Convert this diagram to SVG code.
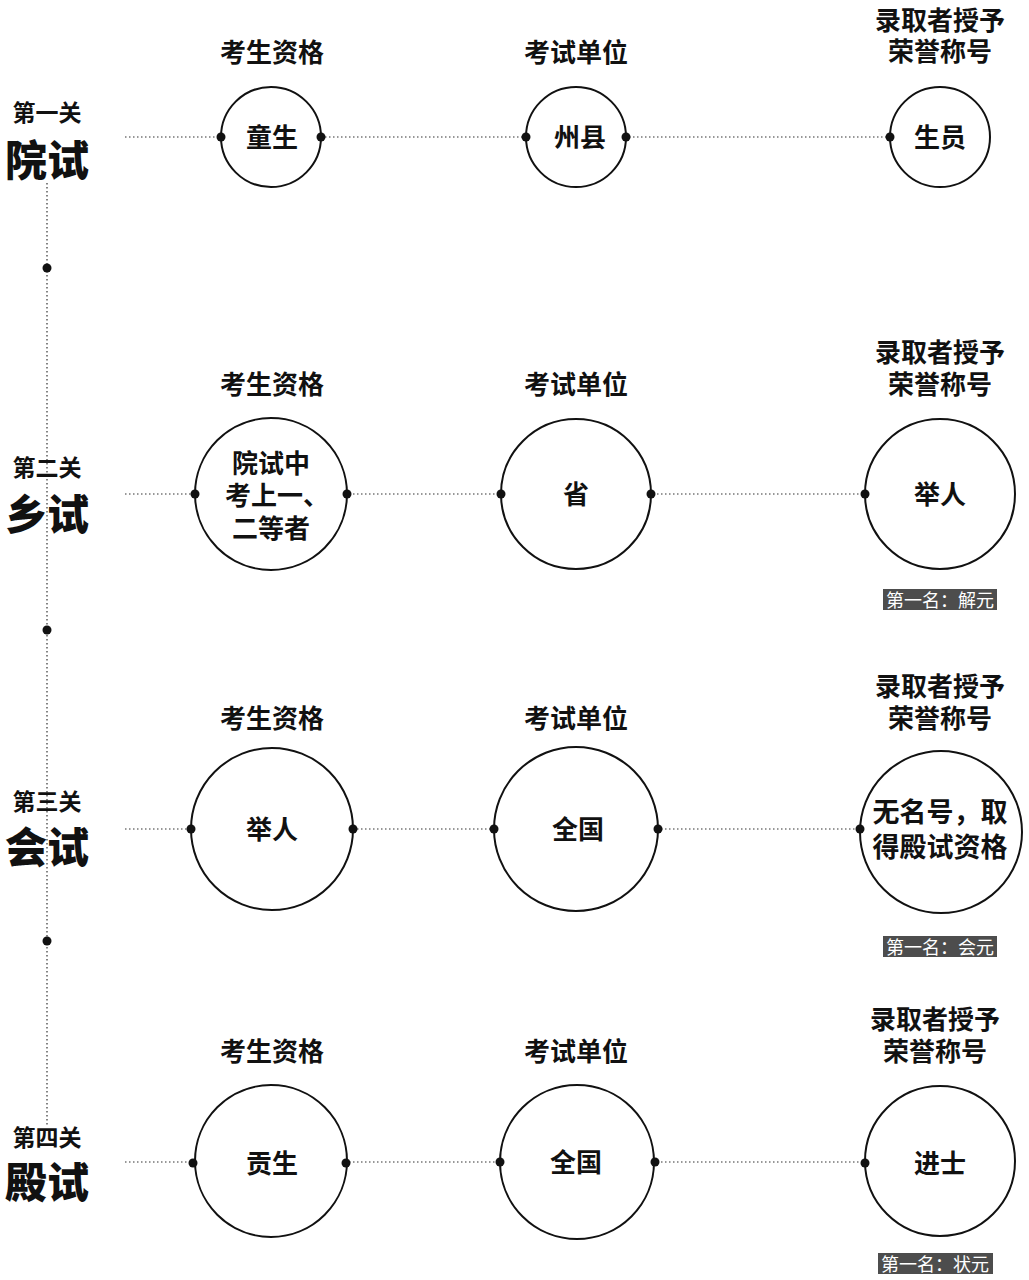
<svg xmlns="http://www.w3.org/2000/svg" width="1029" height="1280" viewBox="0 0 1029 1280">
<style>
text{font-family:"Noto Sans CJK SC","Noto Sans",sans-serif;text-anchor:middle;dominant-baseline:central;fill:#111}
.h{font-size:26px;font-weight:700}
.c{font-size:26px;font-weight:700}
.c2{font-size:26px;font-weight:700}
.c3{font-size:27px;font-weight:700}
.g{font-size:23px;font-weight:700}
.big{font-size:42px;font-weight:900}
.b{font-size:18px;fill:#fff}
.dot{fill:#111}
.circ{fill:#fff;stroke:#111;stroke-width:2}
.conn{stroke:#333;stroke-width:1.2;stroke-dasharray:1.5 2.5;fill:none}
.badge{fill:#4d4d4d}
</style>
<g id="connectors">
<line class="conn" x1="47" y1="183" x2="47" y2="1126"/>
<line class="conn" x1="125" y1="137" x2="890" y2="137"/>
<line class="conn" x1="125" y1="494" x2="865" y2="494"/>
<line class="conn" x1="125" y1="829" x2="860" y2="829"/>
<line class="conn" x1="125" y1="1162" x2="865" y2="1162"/>
<circle class="dot" cx="47" cy="268" r="4.5"/>
<circle class="dot" cx="47" cy="630" r="4.5"/>
<circle class="dot" cx="47" cy="941" r="4.5"/>
</g>
<g id="stage1"><text><tspan class="g" x="47" y="111">第一关</tspan><tspan class="big" x="47" y="157">院试</tspan></text></g>
<g id="stage2"><text><tspan class="g" x="47" y="466">第二关</tspan><tspan class="big" x="47" y="511">乡试</tspan></text></g>
<g id="stage3"><text><tspan class="g" x="47" y="800">第三关</tspan><tspan class="big" x="47" y="844">会试</tspan></text></g>
<g id="stage4"><text><tspan class="g" x="47" y="1136">第四关</tspan><tspan class="big" x="47" y="1179">殿试</tspan></text></g>
<g id="headers">
<text class="h" x="272" y="50">考生资格</text>
<text class="h" x="576" y="50">考试单位</text>
<text class="h"><tspan x="940" y="18">录取者授予</tspan><tspan x="940" y="49">荣誉称号</tspan></text>
<text class="h" x="272" y="382">考生资格</text>
<text class="h" x="576" y="382">考试单位</text>
<text class="h"><tspan x="940" y="350">录取者授予</tspan><tspan x="940" y="382">荣誉称号</tspan></text>
<text class="h" x="272" y="716">考生资格</text>
<text class="h" x="576" y="716">考试单位</text>
<text class="h"><tspan x="940" y="684">录取者授予</tspan><tspan x="940" y="716">荣誉称号</tspan></text>
<text class="h" x="272" y="1049">考生资格</text>
<text class="h" x="576" y="1049">考试单位</text>
<text class="h"><tspan x="935" y="1017">录取者授予</tspan><tspan x="935" y="1049">荣誉称号</tspan></text>
</g>
<g id="n1a"><circle class="circ" cx="271" cy="137" r="50"/><circle class="dot" cx="221" cy="137" r="4.5"/><circle class="dot" cx="321" cy="137" r="4.5"/><text class="c" x="272" y="135">童生</text></g>
<g id="n1b"><circle class="circ" cx="576" cy="137" r="50"/><circle class="dot" cx="526" cy="137" r="4.5"/><circle class="dot" cx="626" cy="137" r="4.5"/><text class="c" x="580" y="135">州县</text></g>
<g id="n1c"><circle class="circ" cx="940" cy="137" r="50"/><circle class="dot" cx="890" cy="137" r="4.5"/><text class="c" x="940" y="135">生员</text></g>
<g id="n2a"><circle class="circ" cx="271" cy="494" r="76"/><circle class="dot" cx="195" cy="494" r="4.5"/><circle class="dot" cx="347" cy="494" r="4.5"/><text class="c2"><tspan x="271" y="461">院试中</tspan><tspan x="277" y="493">考上一、</tspan><tspan x="271" y="526">二等者</tspan></text></g>
<g id="n2b"><circle class="circ" cx="576" cy="494" r="75"/><circle class="dot" cx="501" cy="494" r="4.5"/><circle class="dot" cx="651" cy="494" r="4.5"/><text class="c" x="576" y="492">省</text></g>
<g id="n2c"><circle class="circ" cx="940" cy="494" r="75"/><circle class="dot" cx="865" cy="494" r="4.5"/><text class="c" x="940" y="492">举人</text></g>
<g id="n3a"><circle class="circ" cx="272" cy="829" r="81"/><circle class="dot" cx="191" cy="829" r="4.5"/><circle class="dot" cx="353" cy="829" r="4.5"/><text class="c" x="272" y="827">举人</text></g>
<g id="n3b"><circle class="circ" cx="576" cy="829" r="82"/><circle class="dot" cx="494" cy="829" r="4.5"/><circle class="dot" cx="658" cy="829" r="4.5"/><text class="c" x="578" y="827">全国</text></g>
<g id="n3c"><circle class="circ" cx="941" cy="832" r="81"/><circle class="dot" cx="860" cy="829" r="4.5"/><text class="c3"><tspan x="940" y="810">无名号，取</tspan><tspan x="940" y="845">得殿试资格</tspan></text></g>
<g id="n4a"><circle class="circ" cx="271" cy="1161" r="76"/><circle class="dot" cx="193" cy="1163" r="4.5"/><circle class="dot" cx="346" cy="1163" r="4.5"/><text class="c" x="272" y="1161">贡生</text></g>
<g id="n4b"><circle class="circ" cx="577" cy="1162" r="77"/><circle class="dot" cx="500" cy="1162" r="4.5"/><circle class="dot" cx="655" cy="1162" r="4.5"/><text class="c" x="576" y="1160">全国</text></g>
<g id="n4c"><circle class="circ" cx="940" cy="1161" r="75"/><circle class="dot" cx="865" cy="1163" r="4.5"/><text class="c" x="940" y="1161">进士</text></g>
<g id="badge2"><rect class="badge" x="883" y="589" width="114" height="21"/><text class="b" x="940" y="599">第一名：解元</text></g>
<g id="badge3"><rect class="badge" x="883" y="936" width="114" height="21"/><text class="b" x="940" y="946">第一名：会元</text></g>
<g id="badge4"><rect class="badge" x="878" y="1253" width="115" height="21"/><text class="b" x="935" y="1263">第一名：状元</text></g>
</svg>
